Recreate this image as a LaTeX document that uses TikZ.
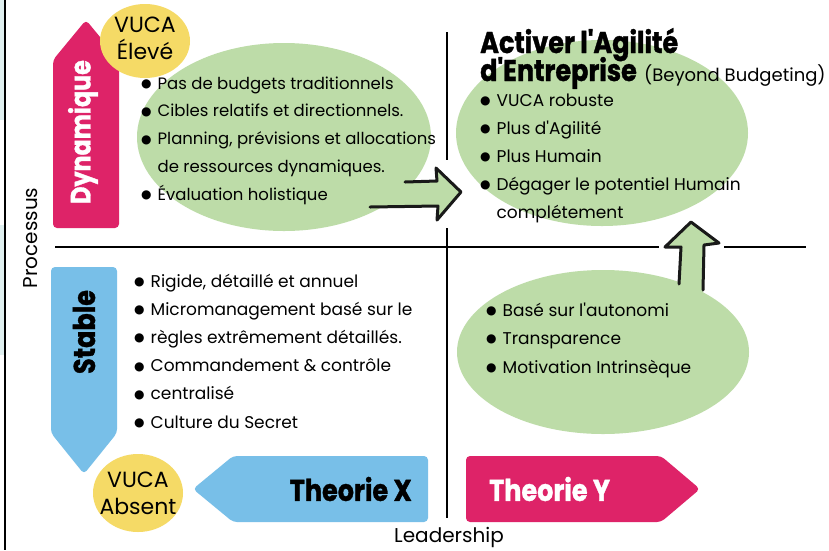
\documentclass[tikz,border=0pt]{standalone}
\usepackage{fontspec}
\setmainfont{Poppins}
\newfontfamily\heavyfont[FakeStretch=0.85, BoldFeatures={FakeBold=1.2}]{Poppins}
\newfontfamily\dotfont{DejaVu Sans}
\usetikzlibrary{positioning}

\definecolor{hot pink}{HTML}{DE2368}
\definecolor{sky blue}{HTML}{78BFE8}
\definecolor{vuca yellow}{HTML}{F5DA66}
\definecolor{leaf green}{HTML}{BDDCA8}
\colorlet{frame tint}{teal!12}

\newcommand{\itm}{\raisebox{1.6pt}{\dotfont\fontsize{12}{12}\selectfont ●}\hspace{6pt}}
\newcommand{\cnt}{\hphantom{\dotfont\fontsize{12}{12}\selectfont ●}\hspace{6pt}}
\newcommand{\q}{\textquotesingle{}}

\tikzset{blob/.style={fill=leaf green},
    axis/.style={line width=2.3pt, black},
    sketch/.style={line width=3pt, line join=round, line cap=round, black!90},
    item/.style={anchor=west, inner sep=0pt, text height=12pt, text depth=4pt,
        font=\fontsize{#1}{20}\selectfont},
    item/.default=17,
    heavy/.style={inner sep=0pt, font=\heavyfont\bfseries\fontsize{#1}{#1}\selectfont},
    heavy/.default=30,
    badge/.style={align=center, inner sep=0pt, font=\fontsize{22}{27}\selectfont},
    axis label/.style={inner sep=0pt, font=\fontsize{#1}{#1}\selectfont},
    axis label/.default=20}

\begin{document}
\begin{tikzpicture}[x=1pt, y=-1pt]

    \useasboundingbox (0,0) rectangle (829,550);
    \fill[white] (0,0) rectangle (829,550);

    % left edge
    \fill[frame tint] (0,0) rectangle (4,120);
    \fill[frame tint] (0,225) rectangle (4,355);
    \draw[line width=1.6pt] (5,0) -- (5,550);

    % quadrant axes
    \draw[axis] (55,247) -- (659,247) (724,247) -- (806,247);
    \draw[axis] (447,32) -- (447,160) (447,228) -- (447,518);

    % green clouds
    \fill[blob] (284,137) ellipse [x radius=147pt, y radius=94pt];
    \fill[blob] (602,133) ellipse [x radius=146pt, y radius=93pt];
    \fill[blob] (603,352) ellipse [x radius=146pt, y radius=82pt];

    % sketched arrows
    \fill[blob] (395,182) -- (437,182) -- (437,168) -- (460,192) -- (437,220) -- (437,206) -- (380,206) -- cycle;
    \draw[sketch] (405,182) -- (437,181) -- (436,168) -- (461,192) -- (437,220) -- (438,206) -- (370,207);
    \fill[blob] (679,290) -- (680,246) -- (665,246) -- (691,222) -- (719,243) -- (704,246) -- (703,295) -- cycle;
    \draw[sketch] (679,284) -- (681,247) -- (665,247) -- (691,222) -- (719,243) -- (704,245) -- (703,290);

    % process arrows
    \fill[hot pink, rounded corners=4pt] (86,20) -- (53,60) -- (53,228) -- (119,228) -- (119,60) -- cycle;
    \fill[sky blue, rounded corners=4pt] (51,267) -- (51,433) -- (84,474) -- (117,433) -- (117,267) -- cycle;
    \node[heavy=28, white, rotate=90] (dynamic) at (83,132) {Dynamique};
    \node[heavy, rotate=90] (stable) at (84,332) {Stable};

    % leadership arrows
    \fill[sky blue, rounded corners=4pt] (193,489) -- (233,456) -- (428,456) -- (428,522) -- (233,522) -- cycle;
    \fill[hot pink, rounded corners=4pt] (466,456) -- (661,456) -- (700,489) -- (661,522) -- (466,522) -- cycle;
    \node[heavy, anchor=east] (theory x) at (412,489) {Theorie X};
    \node[heavy, white, anchor=west] (theory y) at (489,489) {Theorie Y};

    % VUCA badges
    \fill[vuca yellow] (145,41) ellipse [x radius=45pt, y radius=37pt];
    \fill[vuca yellow] (138,493) ellipse [x radius=45pt, y radius=39pt];
    \node[badge] (vuca high) at (145,38) {VUCA\\Élevé};
    \node[badge] (vuca none) at (138,493) {VUCA\\Absent};

    % heading
    \node[heavy, anchor=base west] (agility) at (480,53) {Activer l'Agilité};
    \node[heavy, anchor=base west] (enterprise) at (480,81) {d'Entreprise};
    \node[axis label=18, base right=7pt of enterprise] (beyond) {(Beyond Budgeting)};

    % lists
    \foreach \txt [count=\i] in {\itm Pas de budgets traditionnels, \itm Cibles relatifs et directionnels.,
        {\itm Planning, prévisions et allocations}, \cnt de ressources dynamiques., \itm Évaluation holistique}
        \node[item=16.5] (dyn \i) at (141,{85+27.8*(\i-1)}) {\txt};
    \foreach \txt [count=\i] in {\itm VUCA robuste, \itm Plus d\q Agilité, \itm Plus Humain,
        \itm Dégager le potentiel Humain, \cnt complétement}
        \node[item] (agile \i) at (480,{102+28*(\i-1)}) {\txt};
    \foreach \txt [count=\i] in {{\itm Rigide, détaillé et annuel}, \itm Micromanagement basé sur le,
        \itm règles extrêmement détaillés., \itm Commandement \& contrôle, \itm centralisé, \itm Culture du Secret}
        \node[item] (rigid \i) at (134,{283+28.2*(\i-1)}) {\txt};
    \foreach \txt [count=\i] in {\itm Basé sur l\q autonomi, \itm Transparence, \itm Motivation Intrinsèque}
        \node[item] (auto \i) at (486,{312+28.5*(\i-1)}) {\txt};

    % axis names
    \node[axis label, rotate=90] (process) at (31,238) {Processus};
    \node[axis label] (leadership) at (449,537) {Leadership};

\end{tikzpicture}
\end{document}
